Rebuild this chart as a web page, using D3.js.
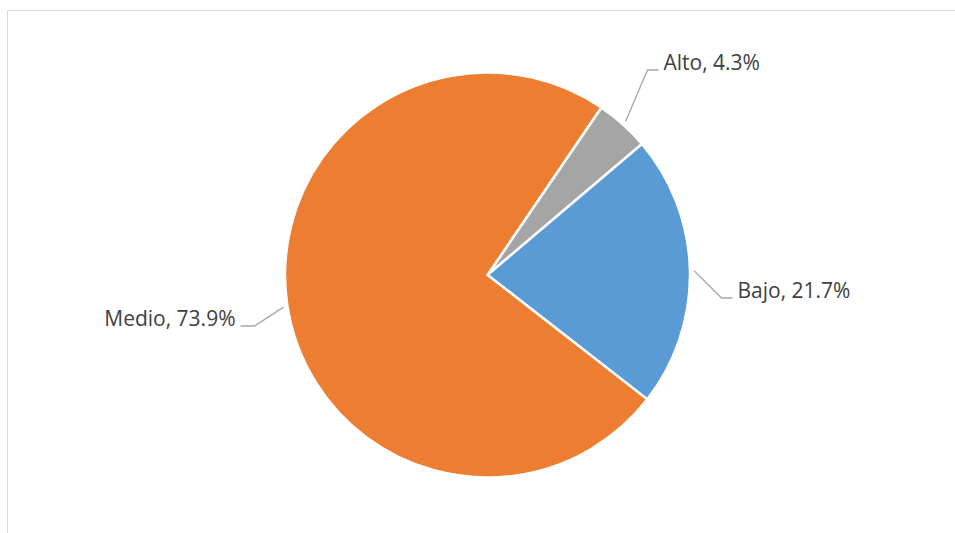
<!DOCTYPE html>
<html>
<head>
<meta charset="utf-8">
<script src="https://cdn.jsdelivr.net/npm/d3@7"></script>
<style>
  body { margin: 0; background: #fff; }
</style>
</head>
<body>
<div id="pieChart"></div>
<script>
const PIE_CATEGORIES = ['Alto', 'Bajo', 'Medio'];
const PIE_VALUES = [4.3, 21.7, 73.9];
const PIE_COLOURS = ['#A5A5A5', '#5B9BD5', '#ED7D31'];
// where each label's leader line bends, relative to the pie centre
const LABEL_ELBOWS = [[160, -205], [234, 23], [-233, 51]];

var width = 955, height = 533;
var cx = 487.5, cy = 275, radius = 202.5;

var svg = d3.select("#pieChart")
  .append("svg")
    .attr("width", width)
    .attr("height", height);

// chart area border
svg.append("rect")
    .attr("x", 7.5)
    .attr("y", 10.5)
    .attr("width", 960)
    .attr("height", 540)
    .attr("fill", "none")
    .attr("stroke", "#D9D9D9")
    .attr("stroke-width", 1);

var g = svg.append("g")
    .attr("transform", "translate(" + cx + "," + cy + ")");

var startAngle = 34.2 * Math.PI / 180;
var pie = d3.pie()
    .sort(null)
    .value(function(d) { return d; })
    .startAngle(startAngle)
    .endAngle(startAngle + 2 * Math.PI);

var arcs = pie(PIE_VALUES);
var arc = d3.arc().innerRadius(0).outerRadius(radius);

g.selectAll("path.slice")
  .data(arcs)
  .enter()
  .append("path")
    .attr("class", "slice")
    .attr("d", arc)
    .attr("fill", function(d, i) { return PIE_COLOURS[i]; })
    .attr("stroke", "#fff")
    .attr("stroke-width", 2.5);

// leader lines and labels
arcs.forEach(function(d, i) {
  var mid = (d.startAngle + d.endAngle) / 2;
  var r0 = radius + 4;
  var x0 = Math.sin(mid) * r0, y0 = -Math.cos(mid) * r0;
  var e = LABEL_ELBOWS[i];
  var right = e[0] > 0;
  var x2 = e[0] + (right ? 11 : -14);
  g.append("polyline")
      .attr("points", [[x0, y0], e, [x2, e[1]]].map(function(p) { return p.join(","); }).join(" "))
      .attr("fill", "none")
      .attr("stroke", "#A6A6A6")
      .attr("stroke-width", 1.3);
  g.append("text")
      .attr("x", x2 + (right ? 5 : -5))
      .attr("y", e[1] - 7)
      .attr("dy", "0.35em")
      .attr("text-anchor", right ? "start" : "end")
      .attr("font-family", "Open Sans")
      .attr("font-size", "21px")
      .attr("fill", "#404040")
      .text(PIE_CATEGORIES[i] + ", " + PIE_VALUES[i].toFixed(1) + "%");
});
</script>
</body>
</html>
